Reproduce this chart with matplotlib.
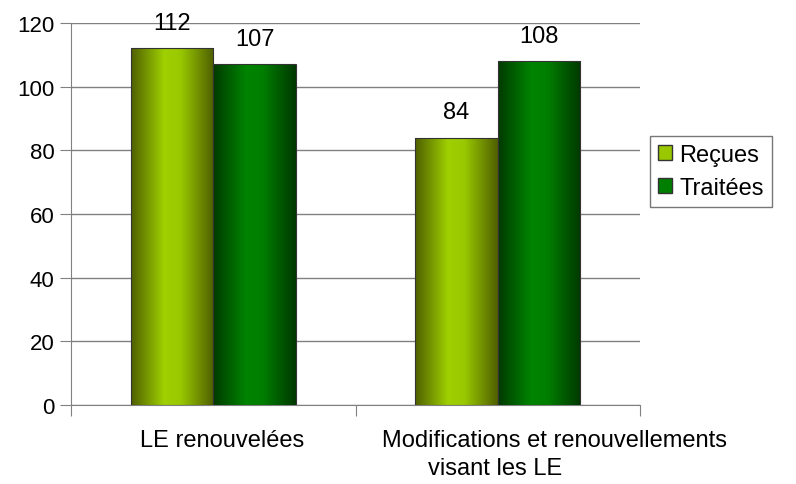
import matplotlib
matplotlib.use("Agg")
import matplotlib.pyplot as plt
import matplotlib.patches as mpatches
from matplotlib.colors import LinearSegmentedColormap
import numpy as np

plt.rcParams['font.family'] = ['Liberation Sans', 'DejaVu Sans']

categories = ["LE renouvelées", "Modifications et renouvellements\nvisant les LE"]
series_names = ["Reçues", "Traitées"]
recues = [112, 84]
traitees = [107, 108]

# dégradés "cylindre" : bords sombres, centre clair
cmap_recues = LinearSegmentedColormap.from_list(
    "recues", [(0, "#4f5f00"), (0.4, "#9fd000"), (0.6, "#99c800"), (1, "#4f5f00")])
cmap_traitees = LinearSegmentedColormap.from_list(
    "traitees", [(0, "#003a00"), (0.4, "#008400"), (0.6, "#007e00"), (1, "#003800")])

fig = plt.figure(figsize=(7.96, 4.85), dpi=100)
ax = fig.add_axes([71 / 796, 79 / 485, 569 / 796, 382 / 485])

x = np.arange(len(categories))
w = 0.29
grad = np.linspace(0, 1, 256).reshape(1, -1)
FS = 17

for vals, off, cmap in [(recues, -w / 2, cmap_recues), (traitees, w / 2, cmap_traitees)]:
    for xi, v in zip(x, vals):
        x0 = xi + off - w / 2
        im = ax.imshow(grad, cmap=cmap, aspect='auto', extent=(x0, x0 + w, 0, v),
                       zorder=3, interpolation='bilinear')
        rect = mpatches.Rectangle((x0, 0), w, v, facecolor='none', edgecolor='#333333',
                                  linewidth=0.8, zorder=4)
        ax.add_patch(rect)
        im.set_clip_path(rect)
        ax.annotate(str(v), (xi + off, v), xytext=(0, 14), textcoords='offset points',
                    ha='center', va='baseline', fontsize=FS)

ax.set_xlim(-0.5, len(categories) - 0.5)
ax.set_ylim(0, 120)
ax.set_yticks(range(0, 121, 20))
ax.yaxis.grid(True, color='#808080', linewidth=1)
ax.set_axisbelow(True)

ax.set_xticks([-0.5, 0.5, 1.5])
ax.set_xticklabels([])
ax.tick_params(axis='x', which='major', length=8, color='#808080', direction='out')
ax.tick_params(axis='y', length=8, color='#808080', labelsize=16, pad=4)

# étiquettes de catégories placées comme dans Excel (lignes décalées)
label_lines = [(categories[0], 0.03, 0),
               (categories[1].split("\n")[0], 1.20, 0),
               (categories[1].split("\n")[1], 0.99, 1)]
for txt, xd, row in label_lines:
    ax.annotate(txt, (xd, 0), xycoords=('data', 'axes fraction'),
                xytext=(0, -35 - 28 * row), textcoords='offset pixels',
                ha='center', va='center', fontsize=FS, annotation_clip=False)

for s in ['top', 'right']:
    ax.spines[s].set_visible(False)
for s in ['left', 'bottom']:
    ax.spines[s].set_color('#808080')

handles = [mpatches.Patch(facecolor="#99c800", edgecolor='#333333', label=series_names[0]),
           mpatches.Patch(facecolor="#007e00", edgecolor='#333333', label=series_names[1])]
leg = fig.legend(handles=handles, loc='upper left', bbox_to_anchor=(650 / 796, 1 - 137 / 485),
                 fontsize=FS, frameon=True, fancybox=False, handlelength=0.6, handleheight=0.6,
                 handletextpad=0.3, borderpad=0.35, labelspacing=0.45, borderaxespad=0)
leg.get_frame().set_edgecolor('#555555')
leg.get_frame().set_linewidth(1)

fig.savefig("out.png", dpi=100)
